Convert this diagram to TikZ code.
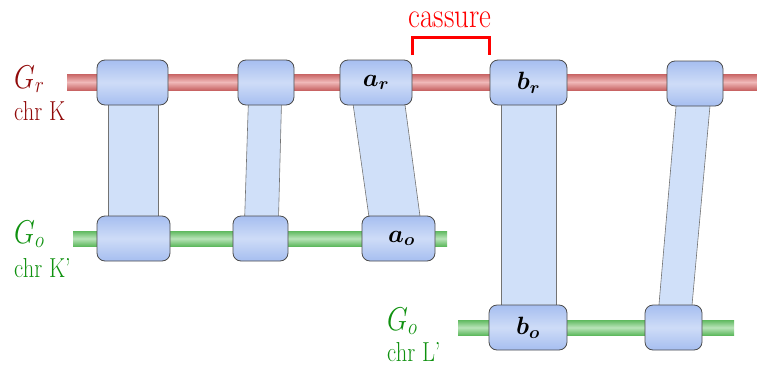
\RequirePackage{fix-cm}
\documentclass[tikz,border=0pt]{standalone}
\usepackage{amsmath,bm,graphicx}
\usetikzlibrary{calc}
\definecolor{boxedge}{RGB}{166,190,240}
\definecolor{boxmid}{RGB}{206,220,247}
\definecolor{bandfill}{RGB}{208,224,249}
\definecolor{redA}{RGB}{200,100,100}
\definecolor{redB}{RGB}{240,185,185}
\definecolor{greenA}{RGB}{95,185,95}
\definecolor{greenB}{RGB}{185,228,185}
\definecolor{lblred}{RGB}{145,10,10}
\definecolor{lblgreen}{RGB}{15,145,15}
\tikzset{
  gbox/.style={draw=black!70, line width=0.8pt, rounded corners=8pt,
    top color=boxedge, bottom color=boxedge, middle color=boxmid,
    minimum height=45pt, inner sep=0pt,
    font=\fontsize{25}{25}\selectfont},
  band/.style={fill=bandfill, draw=black!55, line width=0.6pt},
  redbar/.style={top color=redA, bottom color=redA, middle color=redB},
  greenbar/.style={top color=greenA, bottom color=greenA, middle color=greenB},
  bigG/.style={anchor=base west, inner sep=0pt, font=\fontsize{27}{27}\selectfont},
  chrlbl/.style={anchor=base west, inner sep=0pt, font=\fontsize{22.5}{22.5}\selectfont},
}
\newcommand{\vst}[1]{\scalebox{1}[1.22]{#1}}
\begin{document}
\begin{tikzpicture}[x=1pt,y=-1pt]
\useasboundingbox (0,0) rectangle (757,367);
% chromosome bars
\shade[redbar] (67,74) rectangle (757,90);
\shade[greenbar] (73,231) rectangle (447,246);
\shade[greenbar] (458,320) rectangle (734,335);
% box positions (coordinates only)
\coordinate (pt1) at (132.5,82.5);
\coordinate (pt2) at (266,82.5);
\coordinate (pta) at (376,82.5);
\coordinate (ptb) at (528.5,82.5);
\coordinate (pt5) at (695,83.5);
\coordinate (po1) at (133.5,238.5);
\coordinate (po2) at (260.5,238.5);
\coordinate (poa) at (398.5,238.5);
\coordinate (pob) at (528,327.5);
\coordinate (po5) at (673.5,327.5);
% bands
\filldraw[band] (pt1 -| 108,0) -- (po1 -| 108,0) -- (po1 -| 158,0) -- (pt1 -| 158,0) -- cycle;
\filldraw[band] (pt2 -| 249,0) -- (po2 -| 244,0) -- (po2 -| 278,0) -- (pt2 -| 282,0) -- cycle;
\filldraw[band] (pta -| 350,0) -- (poa -| 372,0) -- (poa -| 423,0) -- (pta -| 402,0) -- cycle;
\filldraw[band] (ptb -| 501,0) -- (pob -| 501,0) -- (pob -| 556,0) -- (ptb -| 556,0) -- cycle;
\filldraw[band] (pt5 -| 678,0) -- (po5 -| 657,0) -- (po5 -| 690,0) -- (pt5 -| 712,0) -- cycle;
% boxes
\node[gbox, minimum width=71pt] (t1) at (pt1) {};
\node[gbox, minimum width=56pt] (t2) at (pt2) {};
\node[gbox, minimum width=72pt] (ta) at (pta) {$\bm{a}_{\bm{r}}$};
\node[gbox, minimum width=77pt] (tb) at (ptb) {$\bm{b}_{\bm{r}}$};
\node[gbox, minimum width=56pt] (t5) at (pt5) {};
\node[gbox, minimum width=73pt] (o1) at (po1) {};
\node[gbox, minimum width=55pt] (o2) at (po2) {};
\node[gbox, minimum width=73pt] (oa) at (poa) {\hspace*{6pt}$\bm{a}_{\bm{o}}$};
\node[gbox, minimum width=78pt] (ob) at (pob) {$\bm{b}_{\bm{o}}$};
\node[gbox, minimum width=57pt] (o5) at (po5) {};
% labels
\node[bigG, text=lblred] (Gr) at (14,88) {\vst{$G_r$}};
\node[chrlbl, text=lblred] (cK) at (14,120) {\vst{chr K}};
\node[bigG, text=lblgreen] (Go1) at (14,243) {\vst{$G_o$}};
\node[chrlbl, text=lblgreen] (cK2) at (14,277) {\vst{chr K'}};
\node[bigG, text=lblgreen] (Go2) at (387,330) {\vst{$G_o$}};
\node[chrlbl, text=lblgreen] (cL) at (387,361) {\vst{chr L'}};
% cassure bracket
\coordinate (c1) at (412,55);
\coordinate (c2) at (489,55);
\draw[red, line width=3pt] (c1) -- (c1 |- 0,37) -- (c2 |- 0,37) -- (c2);
\node[anchor=base, inner sep=0pt, text=red, font=\fontsize{29}{29}\selectfont] (cas) at (450,27) {\vst{cassure}};
\end{tikzpicture}
\end{document}
